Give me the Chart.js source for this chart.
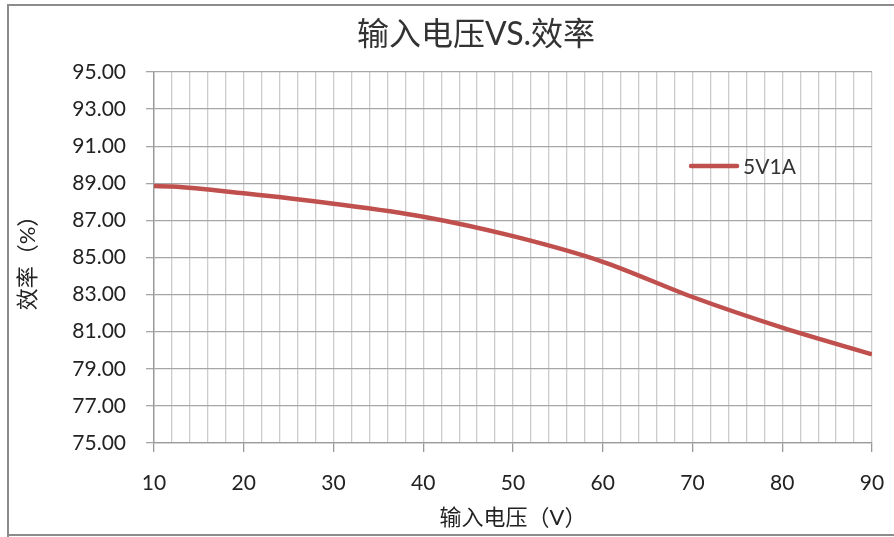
<!DOCTYPE html>
<html>
<head>
<meta charset="utf-8">
<script src="https://cdn.jsdelivr.net/npm/chart.js@4.4.1/dist/chart.umd.min.js"></script>
<style>
  html, body { margin: 0; padding: 0; background: #ffffff; }
  #wrap { width: 894px; height: 537px; position: relative; }
</style>
</head>
<body>
<div id="wrap"><canvas id="c"></canvas></div>
<script>
// ---- data ----
const chartTitle = '输入电压VS.效率';
const xAxisTitle = '输入电压（V）';
const yAxisTitle = '效率（%）';
const seriesName = '5V1A';
const voltages = [10, 12, 20, 30, 40, 50, 60, 70, 80, 90];
const efficiency = [88.85, 88.83, 88.46, 87.90, 87.20, 86.15, 84.77, 82.87, 81.22, 79.78];
const xMin = 10, xMax = 90, xStep = 2, xLabelStep = 10;
const yMin = 75, yMax = 95, yStep = 2;

const FONT = "Lato, 'Noto Sans CJK SC', sans-serif";
const lineColor = '#c0504d';

const decorPlugin = {
  id: 'decor',
  afterDraw(chart) {
    const ctx = chart.ctx;
    const ca = chart.chartArea;
    ctx.save();
    // outer frame
    ctx.strokeStyle = '#8c8c8c';
    ctx.lineWidth = 2;
    ctx.beginPath();
    ctx.moveTo(8, 540); ctx.lineTo(8, 5); ctx.lineTo(900, 5);
    ctx.moveTo(8, 535); ctx.lineTo(900, 535);
    ctx.stroke();
    // title
    ctx.fillStyle = '#333333';
    ctx.font = "32px " + FONT;
    ctx.textAlign = 'center';
    ctx.textBaseline = 'middle';
    ctx.fillText(chartTitle, 476, 35);
    // legend
    const ds = chart.data.datasets[0];
    const lx = ca.left + (ca.right - ca.left) * 0.748;
    const ly = ca.top + 94;
    ctx.strokeStyle = ds.borderColor;
    ctx.lineWidth = 4.5;
    ctx.lineCap = 'round';
    ctx.beginPath();
    ctx.moveTo(lx, ly); ctx.lineTo(lx + 46, ly);
    ctx.stroke();
    ctx.fillStyle = '#333333';
    ctx.font = "21px " + FONT;
    ctx.textAlign = 'left';
    ctx.textBaseline = 'middle';
    ctx.fillText(ds.label, lx + 52, ly + 1);
    ctx.restore();
  }
};

new Chart(document.getElementById('c'), {
  type: 'line',
  data: {
    datasets: [{
      label: seriesName,
      data: voltages.map((v, i) => ({ x: v, y: efficiency[i] })),
      borderColor: lineColor,
      backgroundColor: lineColor,
      borderWidth: 4.5,
      pointRadius: 0,
      pointHoverRadius: 0,
      cubicInterpolationMode: 'monotone',
      fill: false
    }]
  },
  options: {
    responsive: true,
    maintainAspectRatio: false,
    animation: false,
    events: [],
    layout: { padding: { top: 72, right: 22, left: 0, bottom: 0 } },
    plugins: {
      legend: { display: false },
      title: { display: false },
      tooltip: { enabled: false }
    },
    scales: {
      x: {
        type: 'linear',
        min: xMin, max: xMax,
        afterFit(scale) { scale.height = 94; scale.paddingLeft = 0; scale.paddingRight = 0; },
        ticks: {
          stepSize: xStep,
          autoSkip: false,
          maxRotation: 0,
          padding: 19,
          color: '#222222',
          font: { family: FONT, size: 21 },
          callback: (v) => (v % xLabelStep === 0 ? String(v) : '')
        },
        grid: {
          color: (c) => (c.tick && c.tick.value === xMin ? '#9a9a9a' : '#cccccc'),
          lineWidth: 1.3,
          tickLength: 9,
          tickColor: (c) => (c.tick && c.tick.value % xLabelStep === 0 ? '#9a9a9a' : 'rgba(0,0,0,0)')
        },
        border: { display: true, color: '#9a9a9a', width: 1.3 },
        title: {
          display: true,
          text: xAxisTitle,
          color: '#222222',
          font: { family: FONT, size: 22 },
          padding: { top: 0, bottom: 6 }
        }
      },
      y: {
        type: 'linear',
        min: yMin, max: yMax,
        afterFit(scale) { scale.width = 154; scale.paddingTop = 0; scale.paddingBottom = 0; },
        ticks: {
          stepSize: yStep,
          padding: 20,
          color: '#222222',
          font: { family: FONT, size: 21 },
          callback: (v) => Number(v).toFixed(2)
        },
        grid: {
          color: '#a6a6a6',
          lineWidth: 1.3,
          tickLength: 8,
          tickColor: '#a6a6a6'
        },
        border: { display: true, color: '#9a9a9a', width: 1.3 },
        title: {
          display: true,
          text: yAxisTitle,
          color: '#222222',
          font: { family: FONT, size: 22 },
          padding: { top: 15, bottom: 0 }
        }
      }
    }
  },
  plugins: [decorPlugin]
});
</script>
</body>
</html>
